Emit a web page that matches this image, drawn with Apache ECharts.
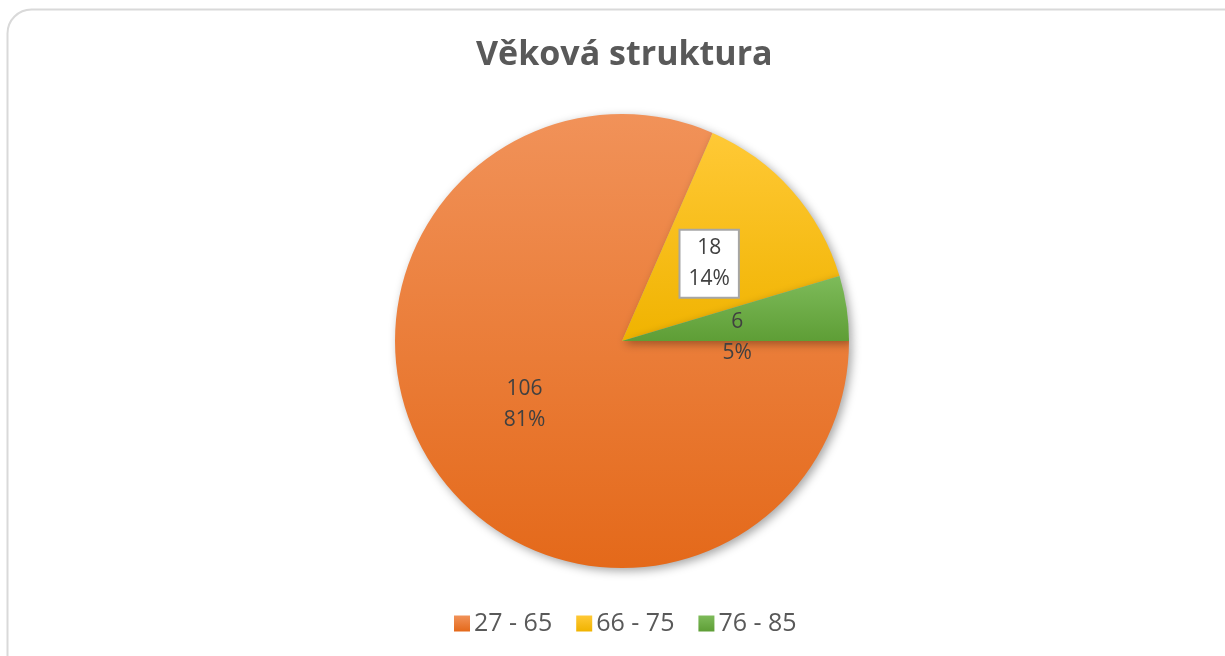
<!DOCTYPE html>
<html><head><meta charset="utf-8">
<script src="https://cdn.jsdelivr.net/npm/echarts@6/dist/echarts.min.js"></script>
<style>html,body{margin:0;padding:0;background:#fff}#c{width:1225px;height:656px}</style>
</head><body><div id="c"></div>
<script>
const categories = ['27 - 65', '66 - 75', '76 - 85'];
const values = [106, 18, 6];
const percents = ['81%', '14%', '5%'];
const colorsTop = ['#F19259', '#FFC936', '#7EBB5A'];
const colorsBottom = ['#E4691A', '#F0B300', '#5E9E36'];

const chart = echarts.init(document.getElementById('c'));
const grad = (i) => new echarts.graphic.LinearGradient(0, 0, 0, 1, [
  {offset: 0, color: colorsTop[i]}, {offset: 1, color: colorsBottom[i]}]);

const data = categories.map((name, i) => {
  const d = {name, value: values[i], itemStyle: {color: grad(i)}};
  if (i === 1) {
    d.label = {backgroundColor: '#fff', borderColor: '#A6A6A6', borderWidth: 2, padding: [3, 8, 1, 8]};
  }
  if (i === 2) {
    d.label = {offset: [0, 13]};
  }
  return d;
});

chart.setOption({
  backgroundColor: '#fff',
  animation: false,
  graphic: [{
    type: 'rect', z: -1,
    shape: {x: 7.5, y: 9.5, width: 1260, height: 700, r: 24},
    style: {fill: '#fff', stroke: '#D9D9D9', lineWidth: 2}
  }],
  title: {
    text: 'Věková struktura', left: 471, top: 33,
    textStyle: {fontFamily: 'Open Sans', fontWeight: 'bold', fontSize: 34, color: '#595959'}
  },
  legend: {
    bottom: 15, left: 449, itemWidth: 16, itemHeight: 16, itemGap: 24,
    icon: 'rect',
    textStyle: {fontFamily: 'Open Sans', fontSize: 25, color: '#595959', padding: [0, 0, 0, -1]},
    data: categories
  },
  series: [{
    type: 'pie', center: [622, 341], radius: 227,
    startAngle: 0, clockwise: true,
    itemStyle: {shadowBlur: 10, shadowOffsetX: 3, shadowOffsetY: 3, shadowColor: 'rgba(0,0,0,0.35)'},
    label: {
      position: 'inside',
      formatter: (p) => p.value + '\n' + percents[p.dataIndex],
      fontFamily: 'Open Sans', fontSize: 21, color: '#404040', lineHeight: 31
    },
    labelLine: {show: false},
    emphasis: {disabled: true},
    data
  }]
});
</script></body></html>
